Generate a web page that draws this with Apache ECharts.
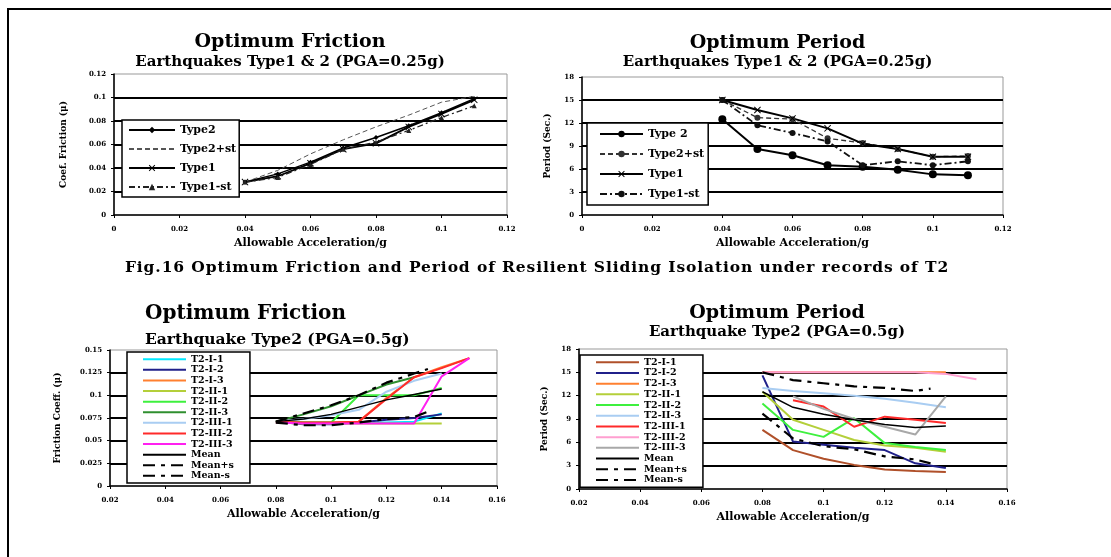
<!DOCTYPE html>
<html>
<head>
<meta charset="utf-8">
<script src="https://cdn.jsdelivr.net/npm/echarts@6/dist/echarts.min.js"></script>
<style>
  body { margin: 0; background: #fff; }
  #page { position: relative; width: 1111px; height: 557px; overflow: hidden; background: #fff; }
  #frame { position: absolute; left: 7px; top: 8px; width: 1120px; height: 570px;
           border-top: 2px solid #000; border-left: 2px solid #000; }
  .chart { position: absolute; }
  #caption { position: absolute; left: 0; top: 257px; width: 1074px; text-align: center;
             font: bold 15.5px "DejaVu Serif"; letter-spacing: 0.9px; color: #000; white-space: nowrap; }
</style>
</head>
<body>
<div id="page">
  <div id="frame"></div>
  <div id="tl" class="chart" style="left:40px;top:25px;width:500px;height:235px"></div>
  <div id="tr" class="chart" style="left:530px;top:25px;width:495px;height:235px"></div>
  <div id="caption">Fig.16 Optimum Friction and Period of Resilient Sliding Isolation under records of T2</div>
  <div id="bl" class="chart" style="left:30px;top:295px;width:490px;height:240px"></div>
  <div id="br" class="chart" style="left:520px;top:295px;width:514px;height:240px"></div>
</div>
<script>
// ---- data ----
var accTop = [0.04, 0.05, 0.06, 0.07, 0.08, 0.09, 0.10, 0.11];

// PGA = 0.25g, friction
var fricType2   = [0.028, 0.035, 0.045, 0.057, 0.066, 0.076, 0.087, 0.099];
var fricType2st = [0.028, 0.038, 0.052, 0.064, 0.075, 0.085, 0.096, 0.101];
var fricType1   = [0.028, 0.033, 0.044, 0.056, 0.061, 0.075, 0.086, 0.098];
var fricType1st = [0.028, 0.032, 0.043, 0.056, 0.062, 0.072, 0.083, 0.093];

// PGA = 0.25g, period
var perType2   = [12.5, 8.6, 7.8, 6.5, 6.3, 5.9, 5.3, 5.2];
var perType2st = [15.0, 12.7, 12.5, 10.0, 9.4, 8.6, 7.6, 7.7];
var perType1   = [15.0, 13.7, 12.6, 11.3, 9.3, 8.6, 7.6, 7.6];
var perType1st = [15.0, 11.7, 10.7, 9.6, 6.5, 7.0, 6.5, 7.0];

// PGA = 0.5g
var accBot  = [0.08, 0.09, 0.10, 0.11, 0.12, 0.13, 0.14, 0.15];
var accMean = [0.08, 0.09, 0.10, 0.11, 0.12, 0.13, 0.135];
var recNames = ['T2-I-1', 'T2-I-2', 'T2-I-3', 'T2-II-1', 'T2-II-2', 'T2-II-3', 'T2-III-1', 'T2-III-2', 'T2-III-3'];

var fricRec = [
  [0.071, 0.070, 0.070, 0.070, 0.070, 0.071, 0.080, null],
  [0.071, 0.068, 0.068, 0.070, 0.073, 0.075, 0.079, null],
  [0.071, 0.070, 0.070, 0.071, 0.097, 0.120, 0.131, 0.141],
  [0.070, 0.069, 0.069, 0.069, 0.069, 0.069, 0.069, null],
  [0.071, 0.070, 0.070, 0.100, 0.100, 0.100, 0.108, null],
  [0.071, 0.079, 0.088, 0.100, 0.112, 0.120, null, null],
  [0.071, 0.074, 0.078, 0.084, 0.104, 0.116, 0.124, null],
  [0.071, 0.070, 0.070, 0.071, 0.096, 0.120, 0.130, 0.141],
  [0.070, 0.069, 0.069, 0.069, 0.069, 0.069, 0.121, 0.141]
];
var fricMean      = [0.071, 0.074, 0.079, 0.087, 0.095, 0.101, 0.107, null];
var fricMeanPlus  = [0.071, 0.080, 0.089, 0.100, 0.114, 0.124, 0.129];
var fricMeanMinus = [0.070, 0.067, 0.067, 0.070, 0.074, 0.076, 0.082];

var perRec = [
  [7.6, 5.0, 3.9, 3.1, 2.5, 2.3, 2.2, null],
  [14.6, 6.1, 5.7, 5.3, 5.0, 3.3, 2.7, null],
  [15.0, 15.0, 15.0, 15.0, 15.0, 15.0, 15.0, null],
  [12.5, 8.9, 7.6, 6.3, 5.6, 5.3, 4.8, null],
  [11.0, 7.6, 6.7, 9.1, 5.9, 5.4, 5.0, null],
  [13.0, 12.6, 12.3, 12.0, 11.6, 11.1, 10.5, null],
  [null, 11.4, 10.6, 8.0, 9.3, 8.9, 8.5, null],
  [15.0, 15.0, 15.0, 15.0, 15.0, 15.0, 14.8, 14.1],
  [null, 11.9, 10.3, 9.0, 8.0, 7.0, 11.9, null]
];
var perMean      = [12.5, 10.5, 9.6, 8.9, 8.3, 7.9, 8.1, null];
var perMeanPlus  = [15.0, 14.0, 13.6, 13.2, 13.0, 12.6, 12.9];
var perMeanMinus = [9.7, 6.5, 5.5, 5.1, 4.2, 3.8, 3.3];

var fricColors = ['#00e8ff', '#20208a', '#ff8030', '#b4cf3a', '#3ef03e', '#2f8f2f', '#a9cdf2', '#ff2a2a', '#ff20f0'];
var perColors  = ['#b0502a', '#20208a', '#ff8030', '#b4cf3a', '#3ef03e', '#a9cdf2', '#ff2a2a', '#ff9fd0', '#a8a8a8'];

// ---- shared styling ----
var FONT = 'DejaVu Serif';
var XMARK = 'path://M0,1L1,0L5,4L9,0L10,1L6,5L10,9L9,10L5,6L1,10L0,9L4,5Z';

function pairs(xs, ys) {
  return xs.map(function (x, i) { return [x, ys[i]]; });
}

function line(name, xs, ys, color, width, dash, symbol, size) {
  return {
    name: name, type: 'line', data: pairs(xs, ys),
    lineStyle: { color: color, width: width, type: dash || 'solid' },
    itemStyle: { color: color },
    symbol: symbol || 'none', symbolSize: size || 0, showSymbol: !!symbol,
    connectNulls: false, animation: false
  };
}

// legend entry without a marker (plain line sample)
function plain(name) {
  return { name: name, itemStyle: { opacity: 0 } };
}

function titles(main, sub, left, mainTop, subTop, mainSize, subSize) {
  return [
    { text: main, left: left, top: mainTop, padding: 0,
      textStyle: { fontFamily: FONT, fontWeight: 'bold', fontSize: mainSize, color: '#000' } },
    { text: sub, left: left, top: subTop, padding: 0,
      textStyle: { fontFamily: FONT, fontWeight: 'bold', fontSize: subSize, color: '#000' } }
  ];
}

function xAxisOf(min, max, gap) {
  return {
    type: 'value', min: min, max: max, interval: 0.02,
    name: 'Allowable Acceleration/g', nameLocation: 'middle', nameGap: gap,
    nameTextStyle: { fontFamily: FONT, fontWeight: 'bold', fontSize: 11, color: '#000' },
    axisLine: { lineStyle: { color: '#000', width: 1.5 } },
    axisTick: { show: true, length: 3, lineStyle: { color: '#000' } },
    axisLabel: { fontFamily: FONT, fontWeight: 'bold', fontSize: 7, color: '#000', margin: 11 },
    splitLine: { show: false }
  };
}

function yAxisOf(name, max, step, gap) {
  return {
    type: 'value', min: 0, max: max, interval: step,
    name: name, nameLocation: 'middle', nameGap: gap,
    nameTextStyle: { fontFamily: FONT, fontWeight: 'bold', fontSize: 9, color: '#000' },
    axisLine: { show: true, lineStyle: { color: '#000', width: 1.5 } },
    axisTick: { show: true, length: 3, lineStyle: { color: '#000' } },
    axisLabel: { fontFamily: FONT, fontWeight: 'bold', fontSize: 7, color: '#000', margin: 8 },
    splitLine: { show: true, showMinLine: false, showMaxLine: false, lineStyle: { color: '#000', width: 2 } }
  };
}

function legendOf(items, left, top, itemWidth, fontSize, gap, padding) {
  return {
    data: items, orient: 'vertical', left: left, top: top,
    itemWidth: itemWidth, itemHeight: 8, itemGap: gap, padding: padding,
    backgroundColor: '#fff', borderColor: '#000', borderWidth: 1.5,
    textStyle: { fontFamily: FONT, fontWeight: 'bold', fontSize: fontSize, color: '#000',
                 lineHeight: fontSize + 1 },
    selectedMode: false
  };
}

function grid(left, top, width, height) {
  return { left: left, top: top, width: width, height: height,
           show: true, borderColor: '#999', borderWidth: 1 };
}

// ---- top left: optimum friction, PGA 0.25g ----
var tl = echarts.init(document.getElementById('tl'));
tl.setOption({
  animation: false,
  title: titles('Optimum Friction', 'Earthquakes Type1 & 2 (PGA=0.25g)', 'center', 8, 30, 19, 15),
  grid: grid(74, 49, 393, 141),
  xAxis: xAxisOf(0, 0.12, 21),
  yAxis: yAxisOf('Coef. Friction (\u03bc)', 0.12, 0.02, 46),
  legend: legendOf(['Type2', plain('Type2+st'), 'Type1', 'Type1-st'], 82, 95, 46, 11, 7, [4, 3, 4, 6]),
  series: [
    line('Type2', accTop, fricType2, '#000', 1.5, 'solid', 'diamond', 5),
    line('Type2+st', accTop, fricType2st, '#555', 1, [5, 3]),
    line('Type1', accTop, fricType1, '#000', 1.8, 'solid', XMARK, 7),
    line('Type1-st', accTop, fricType1st, '#222', 1.3, [6, 3, 2, 3], 'triangle', 5)
  ]
});

// ---- top right: optimum period, PGA 0.25g ----
var tr = echarts.init(document.getElementById('tr'));
tr.setOption({
  animation: false,
  title: titles('Optimum Period', 'Earthquakes Type1 & 2 (PGA=0.25g)', 'center', 9, 30, 19, 15),
  grid: grid(52, 52, 421, 138),
  xAxis: xAxisOf(0, 0.12, 20),
  yAxis: yAxisOf('Period (Sec.)', 18, 3, 30),
  legend: legendOf(['Type 2', 'Type2+st', 'Type1', 'Type1-st'], 57, 98, 43, 11, 8, [5, 4, 5, 12]),
  series: [
    line('Type 2', accTop, perType2, '#000', 2, 'solid', 'circle', 8),
    line('Type2+st', accTop, perType2st, '#333', 1.3, [5, 3], 'circle', 6),
    line('Type1', accTop, perType1, '#000', 2, 'solid', XMARK, 7),
    line('Type1-st', accTop, perType1st, '#111', 1.8, [7, 3, 2, 3], 'circle', 6)
  ]
});

// ---- bottom left: optimum friction, PGA 0.5g ----
var bottomLegend = recNames.concat(['Mean', 'Mean+s', 'Mean-s']).map(plain);

var blSeries = recNames.map(function (n, i) {
  return line(n, accBot, fricRec[i], fricColors[i], 2);
});
blSeries.push(line('Mean', accBot, fricMean, '#000', 1.5));
blSeries.push(line('Mean+s', accMean, fricMeanPlus, '#000', 2.2, [12, 6, 4, 6]));
blSeries.push(line('Mean-s', accMean, fricMeanMinus, '#000', 2.2, [12, 6, 4, 6]));

var bl = echarts.init(document.getElementById('bl'));
bl.setOption({
  animation: false,
  title: titles('Optimum Friction', 'Earthquake Type2 (PGA=0.5g)', 115, 9, 37, 20, 15.5),
  grid: grid(80, 55, 387, 136),
  xAxis: xAxisOf(0.02, 0.16, 19),
  yAxis: yAxisOf('Friction Coeff. (\u03bc)', 0.15, 0.025, 48),
  legend: legendOf(bottomLegend, 97, 57, 43, 9.5, 0.1, [2, 16, 2, 15]),
  series: blSeries
});

// ---- bottom right: optimum period, PGA 0.5g ----
var brSeries = recNames.map(function (n, i) {
  return line(n, accBot, perRec[i], perColors[i], 2);
});
brSeries.push(line('Mean', accBot, perMean, '#000', 1.5));
brSeries.push(line('Mean+s', accMean, perMeanPlus, '#000', 2.2, [12, 6, 4, 6]));
brSeries.push(line('Mean-s', accMean, perMeanMinus, '#000', 2.2, [12, 6, 4, 6]));

var br = echarts.init(document.getElementById('br'));
br.setOption({
  animation: false,
  title: titles('Optimum Period', 'Earthquake Type2 (PGA=0.5g)', 'center', 9, 30, 19, 15),
  grid: grid(59, 54, 428, 140),
  xAxis: xAxisOf(0.02, 0.16, 15),
  yAxis: yAxisOf('Period (Sec.)', 18, 3, 30),
  legend: legendOf(bottomLegend, 60, 60, 43, 9.5, 0.2, [2, 16, 2, 15]),
  series: brSeries
});
</script>
</body>
</html>
